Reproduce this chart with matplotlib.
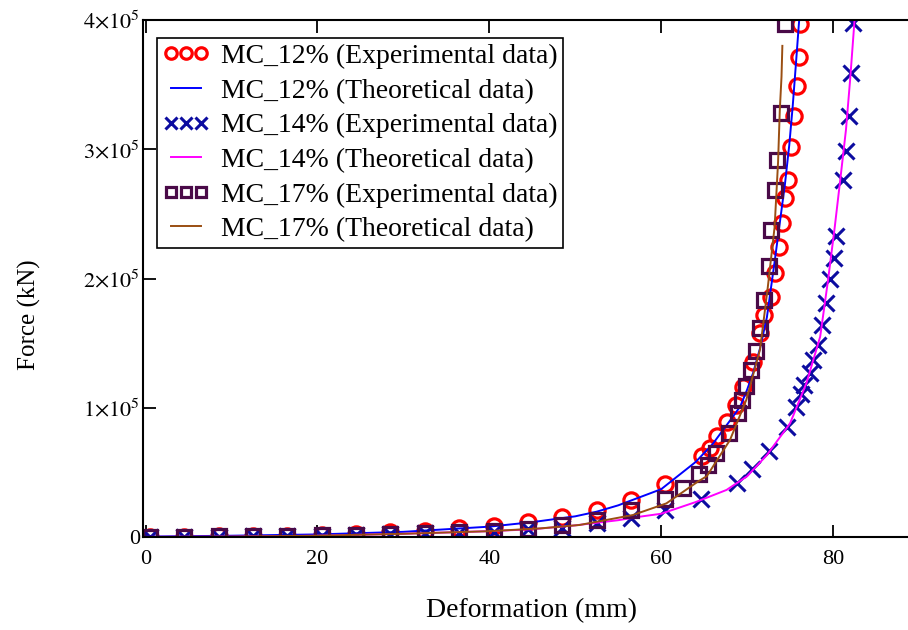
import matplotlib.pyplot as plt
from matplotlib.ticker import FixedLocator, FixedFormatter

plt.rcParams['font.family'] = ['Liberation Serif', 'DejaVu Serif']
plt.rcParams['mathtext.fontset'] = 'stix'

# MC_12% experimental (red circles)
x12 = [0.5, 4.5, 8.5, 12.5, 16.5, 20.5, 24.5, 28.5, 32.5, 36.5, 40.5, 44.5, 48.5, 52.5, 56.5, 60.5,
       64.7, 65.7, 66.5, 67.6, 68.7, 69.5, 70.7, 71.5, 72.0, 72.8, 73.2, 73.7, 74.0, 74.4, 74.7,
       75.1, 75.4, 75.8, 76.0, 76.1]
y12 = [300, 300, 400, 700, 1000, 1500, 2300, 3900, 4600, 7000, 8500, 11600, 15500, 20900, 28600, 40800,
       62700, 69100, 78400, 88700, 102000, 116000, 135400, 157600, 171600, 186000, 204000, 224600, 243000,
       262500, 276000, 302000, 326000, 349000, 371000, 397000]

# MC_12% theoretical (blue line)
x12_fit = [0, 10, 20, 30, 40, 45, 50, 52.5, 55, 60, 64, 66, 68, 69.2, 70, 70.7, 71.5, 72.3, 73.2,
           73.8, 74.4, 74.9, 75.3, 75.7, 76.0, 76.3]
y12_fit = [300, 1000, 2000, 4000, 8000, 11500, 16000, 19600, 24500, 37000, 58000, 72000, 90000, 101000,
           114000, 127000, 146000, 170000, 213000, 243000, 273000, 303000, 333000, 368000, 395000, 420000]

# MC_14% experimental (blue crosses)
x14 = [0.5, 4.5, 8.5, 12.5, 16.5, 20.5, 24.5, 28.5, 32.5, 36.5, 40.5, 44.5, 48.5, 52.5, 56.5, 60.5,
       64.6, 68.8, 70.6, 72.6, 74.6, 75.7, 76.3, 76.6, 77.3, 77.7, 78.2, 78.7, 79.2, 79.6, 80.1, 80.3,
       81.2, 81.5, 81.9, 82.1, 82.3]
y14 = [200, 200, 300, 400, 600, 800, 1200, 2000, 2900, 3000, 4000, 6000, 7000, 10600, 14500, 20900,
       29200, 42000, 52600, 66500, 85300, 100800, 111000, 117600, 126600, 137000, 148500, 164000,
       180800, 200000, 216000, 233000, 276000, 299000, 326000, 359000, 398000]

# MC_14% theoretical (magenta line)
x14_fit = [0, 10, 20, 30, 40, 45, 50, 55, 57.5, 60, 64, 67.6, 70, 72.3, 75, 76.9, 78.5, 79.4, 80.2,
           80.9, 81.5, 82.0, 82.5, 82.8]
y14_fit = [100, 300, 1000, 2500, 4500, 6000, 9000, 13000, 15700, 18000, 27000, 36400, 47000, 63400,
           88000, 119000, 155000, 198000, 240000, 280000, 315000, 355000, 400000, 420000]

# MC_17% experimental (purple squares)
x17 = [0.5, 4.5, 8.5, 12.5, 16.5, 20.5, 24.5, 28.5, 32.5, 36.5, 40.5, 44.5, 48.5, 52.5, 56.5, 60.5,
       62.5, 64.4, 65.5, 66.4, 67.9, 68.9, 69.4, 69.9, 70.5, 71.0, 71.5, 72.0, 72.5, 72.8, 73.3, 73.5,
       73.9, 74.4]
y17 = [300, 300, 400, 600, 800, 1200, 1500, 2300, 3000, 3500, 4500, 6000, 9300, 13200, 20900, 29500,
       37700, 48500, 55700, 64800, 80700, 95700, 106000, 117000, 129000, 144000, 161500, 183000, 210000,
       237500, 268500, 292000, 328000, 397000]

# MC_17% theoretical (brown line)
x17_fit = [0, 10, 20, 30, 40, 46, 50.5, 56.7, 60.6, 64.3, 65.3, 68, 69.9, 71.5, 72.4, 73.2, 73.6,
           73.8, 74.0, 74.1]
y17_fit = [0, 300, 1000, 2500, 4500, 6700, 9300, 17000, 26000, 43000, 47000, 75000, 106000, 145000,
           193000, 240000, 290000, 330000, 356000, 380000]

xticks = [0, 20, 40, 60, 80]
yticks = [0, 1e5, 2e5, 3e5, 4e5]
ytick_labels = ['0', r'$1{\times}10^5$', r'$2{\times}10^5$', r'$3{\times}10^5$', r'$4{\times}10^5$']

fig = plt.figure(figsize=(9.08, 6.3), dpi=100)
ax = fig.add_axes([143 / 908, 93 / 630, 776 / 908, 517 / 630])

ax.plot(x12, y12, 'o', ms=11, mfc='none', mec='red', mew=2.3, label='MC_12% (Experimental data)')
ax.plot(x12_fit, y12_fit, '-', color='blue', lw=1.4, label='MC_12% (Theoretical data)')
ax.plot(x14, y14, 'x', ms=11.5, color='#0c0ca0', mew=2.2, label='MC_14% (Experimental data)')
ax.plot(x14_fit, y14_fit, '-', color='magenta', lw=1.4, label='MC_14% (Theoretical data)')
ax.plot(x17, y17, 's', ms=9.5, mfc='none', mec='#4a0a48', mew=2.3, label='MC_17% (Experimental data)')
ax.plot(x17_fit, y17_fit, '-', color='#9a4e12', lw=1.4, label='MC_17% (Theoretical data)')

ax.set_xlim(-0.3, 90)
ax.set_ylim(0, 4e5)
ax.xaxis.set_major_locator(FixedLocator(xticks))
ax.yaxis.set_major_locator(FixedLocator(yticks))
ax.yaxis.set_major_formatter(FixedFormatter(ytick_labels))
ax.tick_params(direction='in', length=9, width=1.3, top=True, right=False, labelsize=16)
ax.tick_params(axis='x', pad=9)
ax.tick_params(axis='y', pad=2)
for s in ax.spines.values():
    s.set_linewidth(1.5)

ax.set_xlabel('Deformation (mm)', fontsize=20, labelpad=21)
ax.set_ylabel('Force (kN)', fontsize=18)
ax.yaxis.set_label_coords(-0.132, 0.43)

leg = ax.legend(loc='upper left', bbox_to_anchor=(0.018, 0.965), borderaxespad=0, fontsize=20,
                numpoints=3, markerscale=0.75, handlelength=1.7, handletextpad=0.4, labelspacing=0.33,
                fancybox=False, framealpha=1, borderpad=0.2)
leg.get_frame().set_edgecolor('black')
leg.get_frame().set_linewidth(1.2)

fig.savefig('out.png', dpi=100)
